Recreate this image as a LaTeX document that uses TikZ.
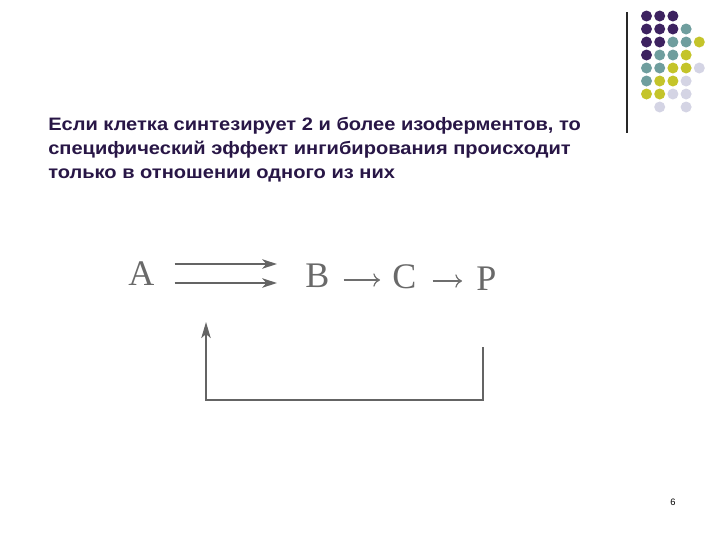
\documentclass[tikz,border=0pt]{standalone}
\usepackage{fontspec}
\setmainfont{Liberation Sans}
\newfontfamily\slidefont[FakeStretch=1.115]{Liberation Sans}
\newfontfamily\letterfont{Liberation Serif}
\usetikzlibrary{arrows.meta}

\begin{document}
\begin{tikzpicture}[x=0.75pt,y=0.75pt,yscale=-1,xscale=1,
  slidetext/.style={anchor=base west,inner sep=0pt,font=\fontsize{13.5}{18}\slidefont\bfseries,text={rgb, 255:red, 40; green, 22; blue, 70}},
  letter/.style={anchor=base west,inner sep=0pt,font=\fontsize{27}{28}\letterfont,text={rgb, 255:red, 105; green, 105; blue, 105}},
  enzarrow/.style={draw={rgb, 255:red, 100; green, 100; blue, 100},line width=1.8pt,-{Stealth[length=11pt,width=7pt,inset=3pt]}},
  steparrow/.style={draw={rgb, 255:red, 110; green, 110; blue, 110},line width=0.9pt,-{To[length=5pt,width=10pt]}},
  feedback/.style={draw={rgb, 255:red, 100; green, 100; blue, 100},line width=1.6pt},
  dotP/.style={fill={rgb, 255:red, 61; green, 34; blue, 96}},
  dotT/.style={fill={rgb, 255:red, 111; green, 158; blue, 158}},
  dotY/.style={fill={rgb, 255:red, 196; green, 196; blue, 42}},
  dotL/.style={fill={rgb, 255:red, 212; green, 212; blue, 228}}]
  \useasboundingbox (0,0) rectangle (720,540);

  %Corner dots
  \foreach \c/\r in {0/0,1/0,2/0,0/1,1/1,2/1,0/2,1/2,0/3}
    \fill [dotP] (646.5+13.2*\c,16+13*\r) circle [radius=5.5];
  \foreach \c/\r in {3/1,2/2,3/2,1/3,2/3,0/4,1/4,0/5}
    \fill [dotT] (646.5+13.2*\c,16+13*\r) circle [radius=5.5];
  \foreach \c/\r in {4/2,3/3,2/4,3/4,1/5,2/5,0/6,1/6}
    \fill [dotY] (646.5+13.2*\c,16+13*\r) circle [radius=5.5];
  \foreach \c/\r in {4/4,3/5,2/6,3/6,1/7,3/7}
    \fill [dotL] (646.5+13.2*\c,16+13*\r) circle [radius=5.5];
  %Straight Lines
  \draw [line width=1.2pt,color={rgb, 255:red, 40; green, 40; blue, 40}] (627,12) -- (627,133) ;

  % Text Node
  \node (line1) [slidetext] at (48,130) {Если клетка синтезирует 2 и более изоферментов, то};
  % Text Node
  \node (line2) [slidetext] at (48,154) {специфический эффект ингибирования происходит};
  % Text Node
  \node (line3) [slidetext] at (48,178) {только в отношении одного из них};

  % Letters
  \node (A) [letter] at (128,285) {A};
  \node (B) [letter] at (305,287) {B};
  \node (C) [letter] at (392,288) {C};
  \node (P) [letter] at (476,290) {P};

  %Double arrow A to B
  \draw [enzarrow,shorten <=15pt,shorten >=21pt] ([yshift=-15.75pt]A.base east) -- ([yshift=-15.75pt]A.base east -| B.west) ;
  \draw [enzarrow,shorten <=15pt,shorten >=21pt] ([yshift=-1.5pt]A.base east) -- ([yshift=-1.5pt]A.base east -| B.west) ;
  %Arrows B to C to P
  \draw [steparrow,shorten <=10.5pt,shorten >=9pt] ([yshift=-5.25pt]B.base east) -- ([yshift=-5.25pt]B.base east -| C.west) ;
  \draw [steparrow,shorten <=12pt,shorten >=10.5pt] ([yshift=-5.25pt]C.base east) -- ([yshift=-5.25pt]C.base east -| P.west) ;

  %Feedback line
  \coordinate (fbStart) at (483,347);
  \coordinate (fbTip) at (206,322);
  \draw [feedback,-{Stealth[length=12pt,width=7pt,inset=3pt]}] (fbStart) -- ++(0,53) -| (fbTip) ;

  % Page number
  \node (page) [inner sep=0pt,font=\fontsize{7}{8}\selectfont] at (673,502) {6};
\end{tikzpicture}
\end{document}
